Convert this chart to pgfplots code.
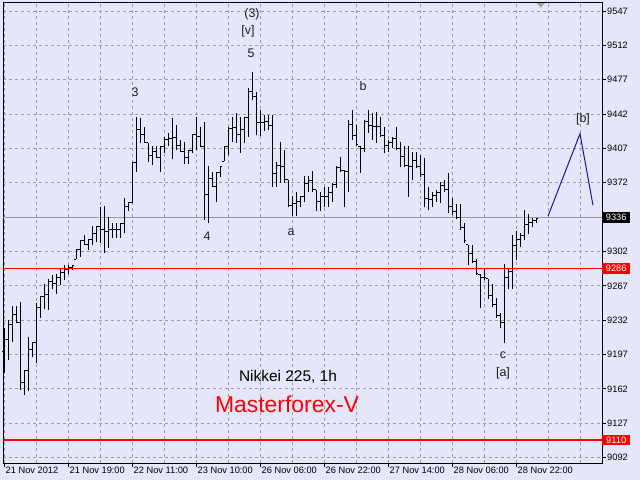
\documentclass[border=0pt]{standalone}
\usepackage{fontspec}
\setmainfont{Liberation Sans}
\usepackage{pgfplots}
\usepackage{pgfplotstable}
\pgfplotsset{compat=1.18}

\definecolor{lav}{RGB}{230,230,250}
\definecolor{gridc}{RGB}{155,155,160}
\definecolor{levred}{RGB}{255,0,0}
\definecolor{wavec}{RGB}{20,20,170}
\definecolor{labc}{RGB}{30,30,30}
\newcommand\tickfont{\fontsize{9.3}{10}\selectfont}
\newcommand\wavefont{\fontsize{12.5}{14}\selectfont}

% open / close ticks of an OHLC bar
\pgfdeclareplotmark{otick}{\pgfpathmoveto{\pgfpoint{-2bp}{0pt}}\pgfpathlineto{\pgfpoint{0pt}{0pt}}\pgfusepathqstroke}
\pgfdeclareplotmark{ctick}{\pgfpathmoveto{\pgfpoint{0pt}{0pt}}\pgfpathlineto{\pgfpoint{2bp}{0pt}}\pgfusepathqstroke}

% Nikkei 225, 1h bars: index, high, low, open, close
\pgfplotstableread{
x H L O C
0 9224 9178 9200 9212
1 9232 9191 9212 9228
2 9246 9210 9228 9238
3 9246 9230 9238 9230
4 9251 9161 9230 9169
5 9181 9156 9169 9181
6 9215 9160 9181 9202
7 9209 9194 9202 9209
8 9250 9188 9209 9245
9 9256 9234 9245 9256
10 9269 9243 9256 9258
11 9274 9242 9258 9271
12 9278 9264 9271 9269
13 9279 9259 9269 9276
14 9284 9268 9276 9281
15 9288 9273 9281 9284
16 9288 9279 9284 9286
17 9288 9283 9286 9288
18 9304 9294 9294 9304
19 9313 9296 9304 9313
20 9319 9309 9313 9309
21 9314 9304 9309 9314
22 9328 9309 9314 9320
23 9327 9312 9320 9327
24 9347 9311 9327 9324
25 9348 9300 9324 9322
26 9337 9306 9322 9324
27 9331 9316 9324 9324
28 9331 9316 9324 9324
29 9331 9316 9324 9331
30 9356 9321 9331 9348
31 9352 9343 9348 9352
32 9393 9351 9352 9393
33 9439 9383 9393 9426
34 9438 9413 9426 9421
35 9429 9413 9421 9413
36 9413 9393 9413 9400
37 9409 9390 9400 9404
38 9409 9398 9404 9398
39 9409 9383 9398 9409
40 9419 9402 9409 9416
41 9423 9409 9416 9417
42 9438 9396 9417 9418
43 9431 9405 9418 9410
44 9416 9404 9410 9404
45 9414 9391 9404 9398
46 9405 9391 9398 9405
47 9421 9402 9405 9421
48 9439 9405 9421 9419
49 9429 9409 9419 9409
50 9434 9334 9409 9360
51 9389 9331 9360 9376
52 9383 9368 9376 9368
53 9382 9352 9368 9382
54 9389 9378 9382 9389
55 9409 9394 9394 9409
56 9429 9400 9409 9427
57 9439 9414 9427 9428
58 9443 9413 9428 9421
59 9439 9402 9421 9426
60 9439 9413 9426 9439
61 9469 9419 9439 9465
62 9485 9456 9465 9460
63 9465 9421 9460 9433
64 9446 9420 9433 9433
65 9441 9425 9433 9434
66 9441 9426 9434 9430
67 9441 9368 9430 9381
68 9393 9368 9381 9390
69 9414 9372 9390 9389
70 9405 9372 9389 9375
71 9375 9347 9375 9349
72 9359 9338 9349 9351
73 9363 9338 9351 9353
74 9359 9347 9353 9358
75 9379 9352 9358 9371
76 9379 9363 9371 9374
77 9384 9363 9374 9365
78 9365 9343 9365 9353
79 9363 9343 9353 9358
80 9368 9347 9358 9358
81 9368 9347 9358 9362
82 9372 9352 9362 9370
83 9389 9367 9370 9388
84 9398 9383 9388 9385
85 9385 9347 9385 9383
86 9436 9363 9383 9431
87 9446 9416 9431 9420
88 9431 9409 9420 9411
89 9409 9382 9409 9407
90 9436 9403 9407 9434
91 9446 9423 9434 9430
92 9443 9416 9430 9429
93 9444 9413 9429 9429
94 9439 9419 9429 9420
95 9429 9402 9420 9410
96 9416 9403 9410 9413
97 9419 9407 9413 9417
98 9429 9405 9417 9407
99 9414 9388 9407 9399
100 9409 9388 9399 9390
101 9409 9358 9390 9389
102 9403 9375 9389 9395
103 9403 9387 9395 9389
104 9400 9378 9389 9380
105 9397 9347 9380 9356
106 9368 9344 9356 9355
107 9363 9347 9355 9359
108 9365 9352 9359 9362
109 9373 9351 9362 9369
110 9375 9363 9369 9365
111 9382 9341 9365 9348
112 9357 9339 9348 9343
113 9350 9335 9343 9337
114 9350 9324 9337 9326
115 9331 9311 9326 9313
116 9309 9288 9309 9300
117 9309 9290 9300 9292
118 9294 9278 9292 9280
119 9279 9244 9279 9275
120 9285 9273 9275 9275
121 9274 9254 9274 9257
122 9269 9245 9257 9248
123 9255 9234 9248 9237
124 9239 9224 9237 9230
125 9289 9209 9230 9275
126 9285 9264 9275 9282
127 9319 9264 9282 9308
128 9323 9293 9308 9314
129 9321 9307 9314 9318
130 9344 9314 9318 9330
131 9340 9320 9330 9332
132 9336 9327 9332 9334
133 9336 9331 9334 9336
}\bars

\begin{document}
\begin{tikzpicture}
\path[use as bounding box, fill=lav] (0,0) rectangle (640bp,480bp);
\begin{axis}[
    at={(3bp,17bp)}, anchor=south west,
    scale only axis, width=599bp, height=460.5bp,
    xmin=-0.25, xmax=149.5, ymin=9086.5, ymax=9555.7,
    clip=false,
    axis line style={black, line width=1bp},
    axis background/.style={fill=lav},
    tick align=outside, major tick length=4bp, minor tick length=0pt,
    tick style={black, line width=1bp},
    xtick pos=bottom, ytick pos=right,
    xtick={0,16,32,48,64,80,96,112,128},
    minor xtick={8,24,40,56,72,88,104,120,136,144},
    xticklabels={21 Nov 2012, 21 Nov 19:00, 22 Nov 11:00, 23 Nov 10:00, 26 Nov 06:00, 26 Nov 22:00, 27 Nov 14:00, 28 Nov 06:00, 28 Nov 22:00},
    ytick={9092,9127,9162,9197,9232,9267,9302,9337,9372,9407,9442,9477,9512,9547},
    yticklabels={9092,9127,9162,9197,9232,9267,9302,{},9372,9407,9442,9477,9512,9547},
    scaled ticks=false,
    grid=both,
    major grid style={gridc, dash pattern=on 3bp off 3bp, line width=1bp},
    minor grid style={gridc, dash pattern=on 3bp off 3bp, line width=1bp},
    xticklabel style={anchor=north west, inner sep=0pt, xshift=1.5bp, font=\tickfont},
    yticklabel style={anchor=west, inner sep=0pt, xshift=1bp, font=\tickfont},
]
% levels (9286 nudged a little so the line sits on one pixel row)
\addplot[draw=gridc, solid, mark=none, line width=1bp] coordinates {(-0.25,9336.6) (149.5,9336.6)};
\addplot[draw=levred, solid, mark=none, line width=1.2bp] coordinates {(-0.25,9110) (149.5,9110)};

% high-low bars
\addplot[draw=none, mark=none, forget plot,
    error bars/.cd, y dir=plus, y explicit, error mark=none,
    error bar style={draw=black, solid, line width=1bp}]
    table[x=x, y=L, y error expr=\thisrow{H}-\thisrow{L}] {\bars};
% open and close ticks
\addplot[only marks, mark=otick, mark options={draw=black, solid, line width=1bp}] table[x=x, y=O] {\bars};
\addplot[only marks, mark=ctick, mark options={draw=black, solid, line width=1bp}] table[x=x, y=C] {\bars};

\addplot[draw=levred, solid, mark=none, line width=1bp] coordinates {(-0.25,9284.8) (149.5,9284.8)};

% projected wave
\addplot[wavec, line width=1bp] coordinates {(136,9338) (144,9422) (147.25,9349)};

% price boxes on the scale
\node[fill=black, text=white, font=\tickfont, anchor=west, minimum width=28bp, minimum height=10.5bp, inner sep=0pt] at (axis cs:149.5,9336.6) {9336};
\node[fill=levred, text=white, font=\tickfont, anchor=west, minimum width=28bp, minimum height=10.5bp, inner sep=0pt] at (axis cs:149.5,9284.8) {9286};
\node[fill=levred, text=white, font=\tickfont, anchor=west, minimum width=28bp, minimum height=10.5bp, inner sep=0pt] at (axis cs:149.5,9110) {9110};

% shift marker
\fill[gray!70] (axis cs:133.2,9555) -- (axis cs:135.2,9555) -- (axis cs:134.2,9550.5) -- cycle;

% wave labels
\node[font=\wavefont, text=labc] at (axis cs:32.75,9464.5) {3};
\node[font=\wavefont, text=labc] at (axis cs:62,9544) {(3)};
\node[font=\wavefont, text=labc] at (axis cs:61,9526) {[v]};
\node[font=\wavefont, text=labc] at (axis cs:61.75,9504) {5};
\node[font=\wavefont, text=labc] at (axis cs:50.75,9318) {4};
\node[font=\wavefont, text=labc] at (axis cs:71.75,9321.5) {a};
\node[font=\wavefont, text=labc] at (axis cs:89.75,9470.5) {b};
\node[font=\wavefont, text=labc] at (axis cs:124.75,9196.5) {c};
\node[font=\wavefont, text=labc] at (axis cs:124.75,9178) {[a]};
\node[font=\wavefont, text=labc] at (axis cs:144.75,9436.5) {[b]};

\node[font=\fontsize{15.5}{17}\selectfont, text=black, anchor=base] at (axis cs:71,9170) {Nikkei 225, 1h};
\node[font=\fontsize{23}{26}\selectfont, text=levred, anchor=base] at (axis cs:70.75,9138) {Masterforex-V};
\end{axis}
\end{tikzpicture}
\end{document}
